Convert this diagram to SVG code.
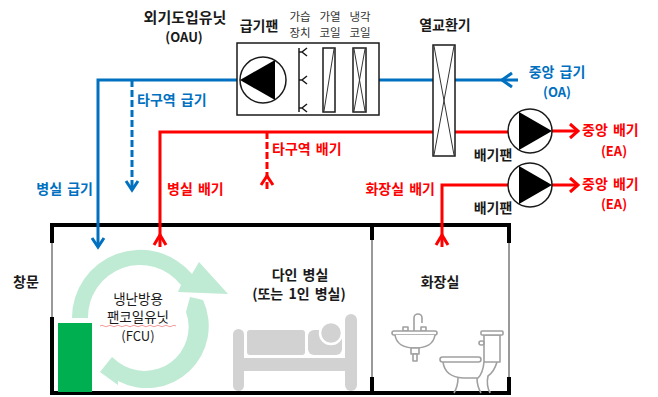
<svg xmlns="http://www.w3.org/2000/svg" width="658" height="397" viewBox="0 0 658 397">
  <style>
    text { font-family: 'Noto Sans CJK KR', 'Noto Sans', sans-serif; }
    .lbl { font-size: 14px; font-weight: bold; fill: #1a1a1a; word-spacing: 2px; }
    .big { font-size: 15px; font-weight: bold; fill: #1a1a1a; }
    .sm { font-size: 11.5px; fill: #333; }
    .blue { fill: #0070c0; }
    .red { fill: #ff0000; }
    .mid { text-anchor: middle; }
    .end { text-anchor: end; }
    .sup { stroke: #0070c0; stroke-width: 3; fill: none; }
    .exh { stroke: #ff0000; stroke-width: 3; fill: none; }
    .dash { stroke-dasharray: 7 3; }
    .box { fill: #fff; stroke: #1a1a1a; stroke-width: 1.5; }
    .thin { fill: none; stroke: #333; stroke-width: 1; }
    .wall { stroke: #000; stroke-width: 4; fill: none; }
    .glass { stroke: #999; stroke-width: 2; fill: none; }
    .ic { fill: #fff; stroke: #a0a0a0; stroke-width: 1.6; stroke-linejoin: round; }
    .bed { fill: #d2d2d2; }
    .flow { fill: #bfead3; }
    .fcu { font-size: 13.5px; fill: #1a1a1a; }
  </style>

  <!-- building walls -->
  <g id="walls">
    <path class="wall" d="M50 225 H511 M50 393 H511"/>
    <path class="wall" d="M52 223 V243 M52 317 V395"/>
    <path class="glass" d="M52 243 V317"/>
    <path class="wall" d="M372 223 V240 M372 377 V395"/>
    <path class="glass" d="M372 240 V377"/>
    <path class="wall" d="M509 223 V243 M509 377 V395"/>
    <path class="glass" d="M509 243 V377"/>
  </g>

  <!-- ducts -->
  <g id="connectors">
    <path class="sup" d="M518 80 H98 V247"/>
    <path class="sup" d="M512 73 L502 80 L512 87"/>
    <path class="sup" d="M92 238 L98 247 L104 238"/>
    <path class="sup dash" d="M132 80 V190"/>
    <path class="sup" d="M126 181 L132 190 L138 181"/>

    <path class="exh" d="M160 247 V132 H510"/>
    <path class="exh" d="M154 245 L160 235 L166 245"/>
    <path class="exh dash" d="M267 132 V192"/>
    <path class="exh" d="M261 185 L267 176 L273 185"/>
    <path class="exh" d="M552 131 H578"/>
    <path class="exh" d="M570 124 L578 131 L570 138"/>

    <path class="exh" d="M442 247 V185 H510"/>
    <path class="exh" d="M436 245 L442 235 L448 245"/>
    <path class="exh" d="M552 185 H578"/>
    <path class="exh" d="M570 178 L578 185 L570 192"/>
  </g>

  <!-- outdoor air unit -->
  <g id="oau">
    <rect class="box" x="237" y="43" width="142" height="72"/>
    <circle cx="263" cy="80" r="23" fill="#fff" stroke="#1a1a1a" stroke-width="1.5"/>
    <polygon points="240,80 275,60 275,100" fill="#000"/>
    <path d="M299 48 V112" stroke="#1a1a1a" stroke-width="1.5" fill="none"/>
    <path d="M299 52 H302 M307 48 L302 52 L307 56 M299 80 H302 M307 76 L302 80 L307 84 M299 108 H302 M307 104 L302 108 L307 112" stroke="#1a1a1a" stroke-width="1.5" fill="none"/>
    <rect x="323" y="48" width="12" height="64" fill="#fff" stroke="#1a1a1a" stroke-width="1.5"/>
    <path class="thin" d="M324 111 L334 49"/>
    <rect x="353" y="48" width="13" height="64" fill="#fff" stroke="#1a1a1a" stroke-width="1.5"/>
    <path class="thin" d="M354 49 L365 111 M365 49 L354 111"/>
    <text class="big mid" x="185" y="23">외기도입유닛</text>
    <text class="lbl mid" x="184" y="42" style="font-size:13px">(OAU)</text>
    <text class="lbl mid" x="259" y="31">급기팬</text>
    <text class="sm mid" x="300" y="21">가습</text>
    <text class="sm mid" x="300" y="37">장치</text>
    <text class="sm mid" x="330" y="21">가열</text>
    <text class="sm mid" x="330" y="37">코일</text>
    <text class="sm mid" x="360" y="21">냉각</text>
    <text class="sm mid" x="360" y="37">코일</text>
  </g>

  <!-- heat exchanger -->
  <g id="heat-exchanger">
    <rect class="box" x="433" y="45" width="22" height="111"/>
    <path class="thin" d="M434 46 L454 155 M454 46 L434 155" stroke="#555"/>
    <text class="lbl mid" x="445" y="30">열교환기</text>
  </g>

  <!-- exhaust fans -->
  <g id="exhaust-fan-1">
    <circle cx="530" cy="131" r="22" fill="#fff" stroke="#1a1a1a" stroke-width="1.5"/>
    <polygon points="519,112 552,131 519,150" fill="#000"/>
    <text class="lbl mid" x="493" y="160">배기팬</text>
  </g>
  <g id="exhaust-fan-2">
    <circle cx="530" cy="185" r="22" fill="#fff" stroke="#1a1a1a" stroke-width="1.5"/>
    <polygon points="519,166 552,185 519,204" fill="#000"/>
    <text class="lbl mid" x="493" y="213">배기팬</text>
  </g>

  <!-- duct labels -->
  <g id="duct-labels">
    <text class="lbl blue mid" x="557" y="77">중앙 급기</text>
    <text class="lbl blue mid" x="557" y="97" style="font-size:13px">(OA)</text>
    <text class="lbl blue" x="137" y="105">타구역 급기</text>
    <text class="lbl blue end" x="93" y="194">병실 급기</text>
    <text class="lbl red" x="167" y="194">병실 배기</text>
    <text class="lbl red" x="272" y="154">타구역 배기</text>
    <text class="lbl red" x="582" y="135">중앙 배기</text>
    <text class="lbl red mid" x="614" y="156" style="font-size:13px">(EA)</text>
    <text class="lbl red end" x="435" y="194">화장실 배기</text>
    <text class="lbl red" x="582" y="189">중앙 배기</text>
    <text class="lbl red mid" x="614" y="209" style="font-size:13px">(EA)</text>
  </g>

  <!-- patient room -->
  <g id="room">
    <text class="lbl mid" x="300" y="280">다인 병실</text>
    <text class="lbl mid" x="299" y="299">(또는 1인 병실)</text>
    <text class="lbl mid" x="26" y="287">창문</text>
    <!-- bed -->
    <rect class="bed" x="233" y="329" width="11" height="62" rx="5.5"/>
    <rect class="bed" x="345" y="314" width="12" height="77" rx="6"/>
    <rect class="bed" x="244" y="358" width="101" height="13"/>
    <rect class="bed" x="247" y="330" width="58" height="25" rx="3"/>
    <rect class="bed" x="308" y="330" width="34" height="25" rx="6"/>
    <circle class="bed" cx="331" cy="333" r="11" stroke="#fff" stroke-width="2.5"/>
  </g>

  <!-- fan coil unit -->
  <g id="fcu">
    <path class="flow" d="M72 318 A68 68 0 0 1 192 274 L199 262 L228 294 L178 292 L181 285 A52 52 0 0 0 88 318 Z"/>
    <path class="flow" d="M190 297 L203 300 A62 62 0 0 1 118 381 L118 385 L100 372 L112 357 L118 362 A44 44 0 0 0 186 312 Z"/>
    <rect x="58" y="323" width="34" height="69" fill="#00b050"/>
    <text class="fcu mid" x="138" y="304">냉난방용</text>
    <text class="fcu mid" x="138" y="322">팬코일유닛</text>
    <path d="M100 326 q2 -1.5 4 0 t4 0 t4 0 t4 0 t4 0 t4 0 t4 0 t4 0 t4 0 t4 0 t4 0 t4 0 t4 0 t4 0 t4 0 t4 0 t4 0 t4 0 t4 0" stroke="#f08080" stroke-width="0.8" fill="none"/>
    <text class="mid" x="138" y="341" style="font-size:13px; fill:#1a1a1a">(FCU)</text>
  </g>

  <!-- restroom -->
  <g id="restroom">
    <text class="lbl mid" x="440" y="287">화장실</text>
    <!-- sink -->
    <path class="ic" d="M414 331 V318 A4 4 0 0 1 422 318 V323"/>
    <rect class="ic" x="403" y="327" width="5" height="4"/>
    <rect class="ic" x="421" y="327" width="5" height="4"/>
    <rect class="ic" x="392" y="331" width="45" height="4" rx="2"/>
    <path class="ic" d="M395 335 Q397 348 415 348 Q433 348 435 335"/>
    <rect class="ic" x="411" y="348" width="8" height="6"/>
    <rect class="ic" x="413" y="354" width="4" height="7"/>
    <!-- toilet -->
    <path class="ic" d="M497 362 Q494 372 488 376 Q486 385 490 393"/>
    <path class="ic" d="M443 362 Q445 377 463 378 L478 378 Q483 373 484 362"/>
    <path class="ic" d="M458 378 Q458 386 454 393 M477 378 Q477 386 481 393"/>
    <rect class="ic" x="484" y="335" width="16" height="27"/>
    <rect class="ic" x="481" y="331" width="22" height="4" rx="1"/>
    <rect class="ic" x="479" y="341" width="5" height="4" rx="2"/>
    <rect class="ic" x="440" y="357" width="41" height="5" rx="2.5"/>
  </g>
</svg>
